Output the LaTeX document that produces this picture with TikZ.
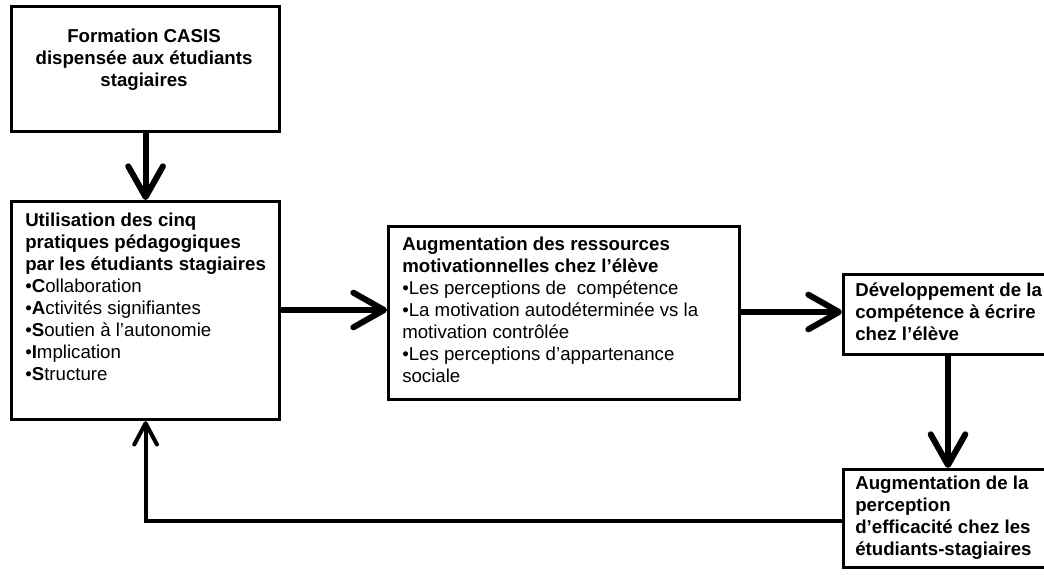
\documentclass[tikz,border=0pt]{standalone}
\usepackage{fontspec}
\setmainfont{Liberation Sans}
\usetikzlibrary{arrows.meta}
\begin{document}
\begin{tikzpicture}[x=0.75pt,y=-0.75pt,
  box/.style={draw, line width=2.4pt, inner sep=0pt, anchor=north west},
  txt/.style={inner sep=0pt, anchor=north west, align=left, font=\fontsize{14}{16.5}\selectfont},
  bigarrow/.style={line width=4.5pt, -{Straight Barb[length=23pt,width=26pt,round]}},
  backarrow/.style={line width=3pt, -{Straight Barb[length=16pt,width=17pt,round]}}]
\useasboundingbox (0,0) rectangle (1044,574);
% boxes
\node[box, minimum width=201pt, minimum height=93.75pt] (b1) at (10,5) {};
\node[box, minimum width=201pt, minimum height=163.5pt] (b2) at (10,200) {};
\node[box, minimum width=263.25pt, minimum height=129.75pt] (b3) at (387,225) {};
\node[box, minimum width=157.5pt, minimum height=60pt] (b4) at (842,273) {};
\node[box, minimum width=157.5pt, minimum height=73.5pt] (b5) at (842,468) {};
% texts
\node[txt, anchor=north, align=center, font=\bfseries\fontsize{14}{16.5}\selectfont] (t1) at (144,29)
  {Formation CASIS\\dispensée aux étudiants\\stagiaires};
\node[txt] (t2) at (25,213)
  {\textbf{Utilisation des cinq}\\\textbf{pratiques pédagogiques}\\\textbf{par les étudiants stagiaires}\\
   •\textbf{C}ollaboration\\•\textbf{A}ctivités signifiantes\\•\textbf{S}outien à l’autonomie\\
   •\textbf{I}mplication\\•\textbf{S}tructure};
\node[txt] (t3) at (402,237)
  {\textbf{Augmentation des ressources}\\\textbf{motivationnelles chez l’élève}\\
   •Les perceptions de\ \ compétence\\•La motivation autodéterminée vs la\\motivation contrôlée\\
   •Les perceptions d’appartenance\\sociale};
\node[txt, font=\bfseries\fontsize{14}{16.5}\selectfont] (t4) at (855,283)
  {Développement de la\\compétence à écrire\\chez l’élève};
\node[txt, font=\bfseries\fontsize{14}{16.5}\selectfont] (t5) at (855,476)
  {Augmentation de la\\perception\\d’efficacité chez les\\étudiants-stagiaires};
% connectors
\coordinate (c2e) at (b2.east |- 0,310);
\coordinate (c3e) at (b3.east |- 0,312);
\coordinate (c4s) at (948,0);
\coordinate (c5w) at (b5.west |- 0,521);
\draw[bigarrow] (b1.south) -- (b2.north);
\draw[bigarrow] (c2e) -- (c2e -| b3.west);
\draw[bigarrow] (c3e) -- (c3e -| b4.west);
\draw[bigarrow] (c4s |- b4.south) -- (c4s |- b5.north);
\draw[backarrow, line join=miter] (c5w) -- (c5w -| b2.south) -- (b2.south);
\end{tikzpicture}
\end{document}
